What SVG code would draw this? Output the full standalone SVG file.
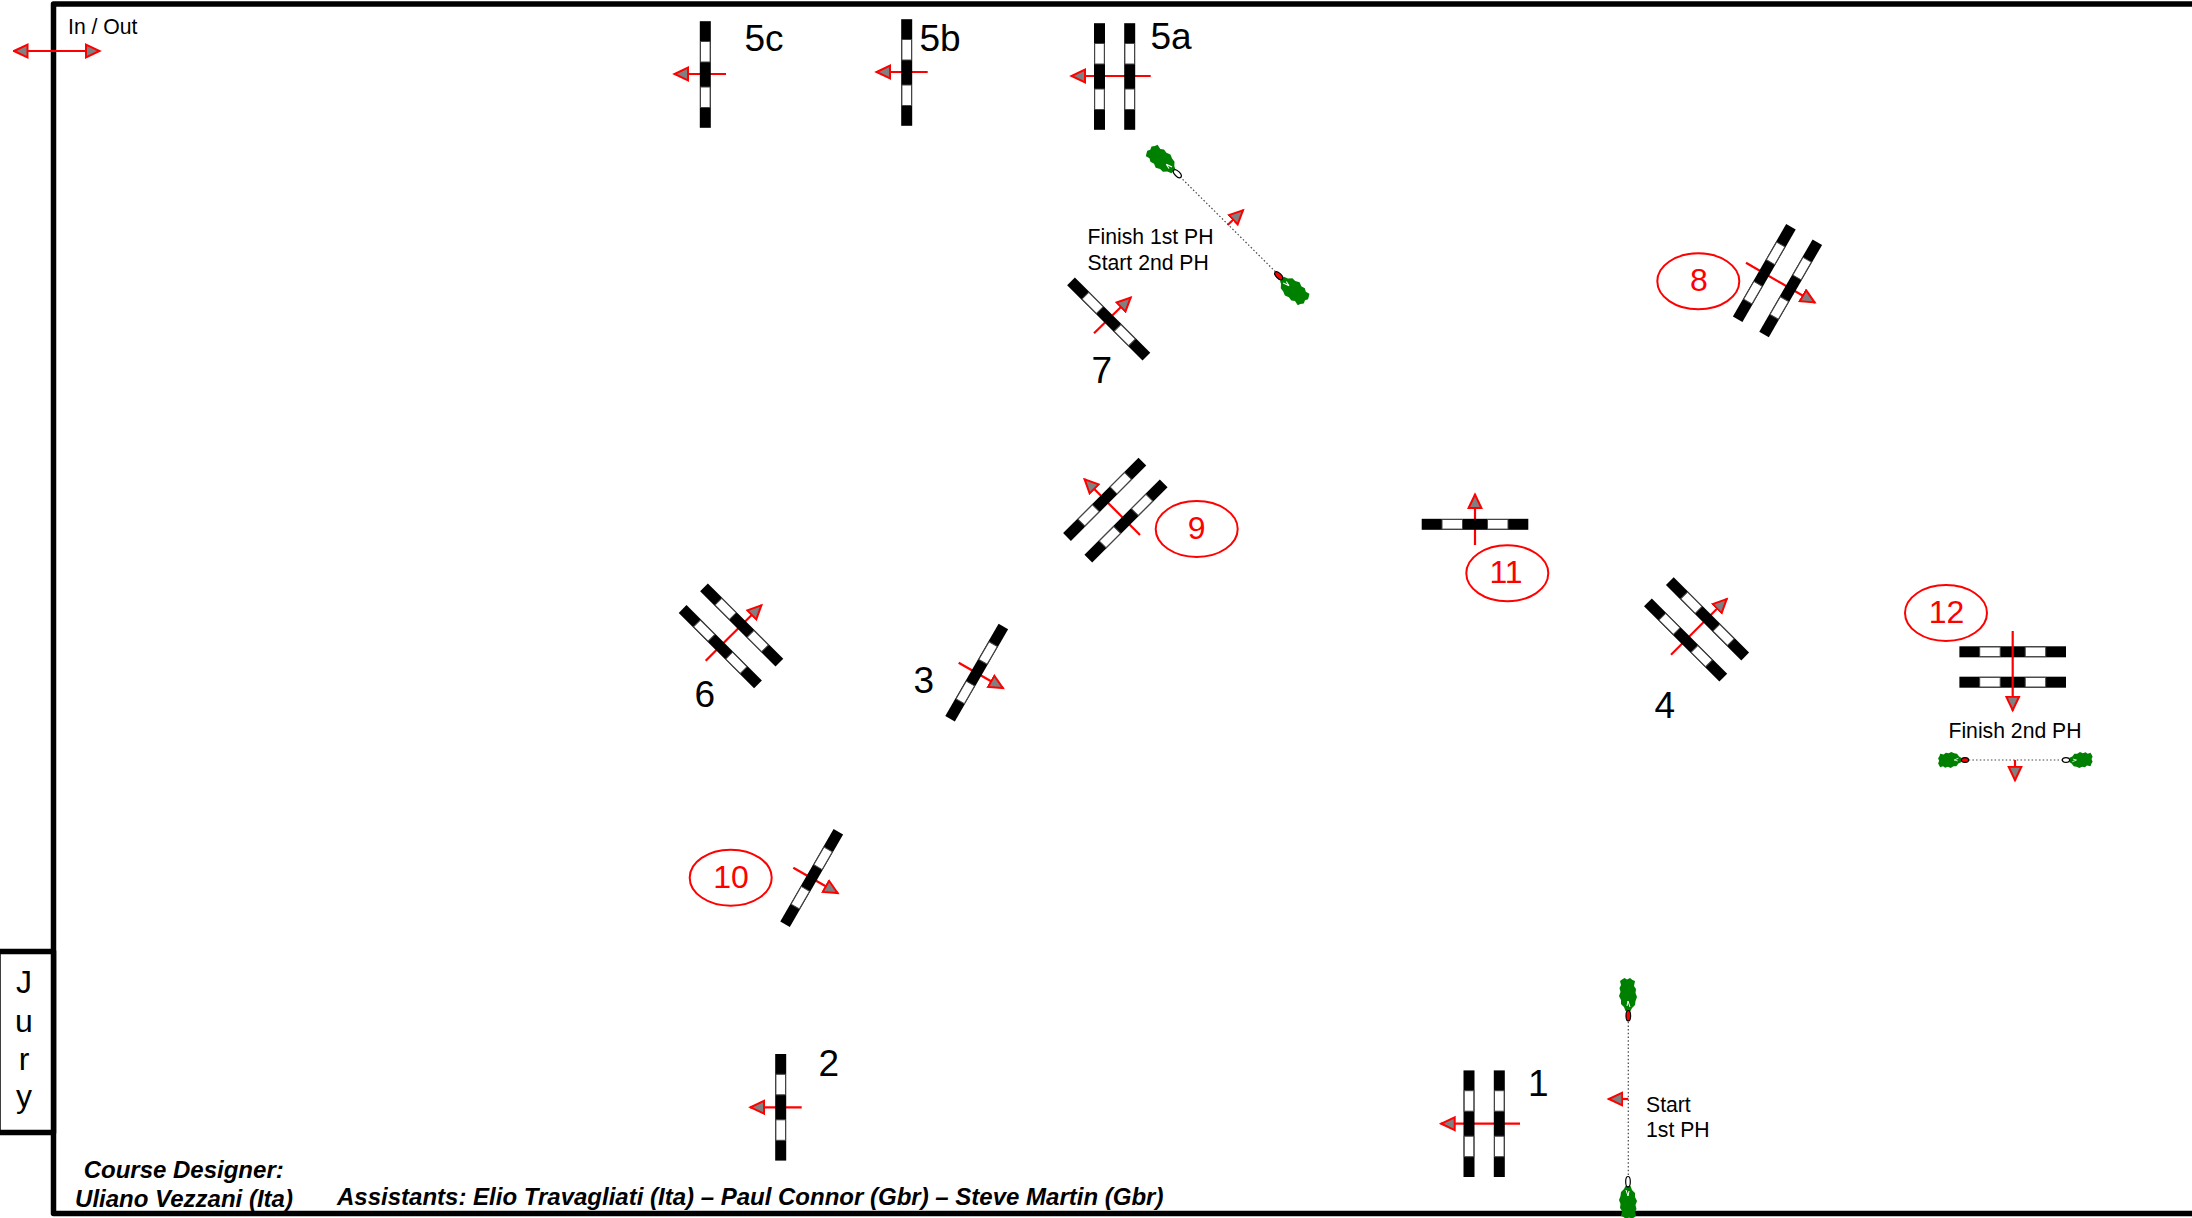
<svg xmlns="http://www.w3.org/2000/svg" xmlns:xlink="http://www.w3.org/1999/xlink" width="2192" height="1218" viewBox="0 0 2192 1218">
<style>
text{font-family:"Liberation Sans",Arial,sans-serif;fill:#000}
.frame{fill:#fff;stroke:#000;stroke-width:5.5;stroke-linejoin:round}
.arw{fill:none;stroke:#f00;stroke-width:2.2}
.a1{marker-end:url(#tip)}
.a2{marker-start:url(#tipS);marker-end:url(#tip)}
.dot{fill:none;stroke:#444;stroke-width:1.2;stroke-dasharray:1.5 2.2}
.num{font-size:37px}
.lbl{font-size:21.2px}
.red{fill:#f00;font-size:32px;text-anchor:middle}
.ring{fill:#fff;stroke:#f00;stroke-width:2}
.cred{font-size:24px;font-weight:bold;font-style:italic}
.ovR{fill:#f00;stroke:#000;stroke-width:1.2}
.ovW{fill:#fff;stroke:#000;stroke-width:1.2}
</style>
<defs>
<marker id="tip" markerUnits="userSpaceOnUse" markerWidth="20" markerHeight="20" refX="15" refY="8" orient="auto"><path d="M1,1.6 L14.5,8 L1,14.4Z" fill="#808080" stroke="#f00" stroke-width="2"/></marker>
<marker id="tipS" markerUnits="userSpaceOnUse" markerWidth="20" markerHeight="20" refX="1" refY="8" orient="auto"><path d="M15,1.6 L1.5,8 L15,14.4Z" fill="#808080" stroke="#f00" stroke-width="2"/></marker>
<g id="bar"><rect x="-5.5" y="-53.3" width="11" height="106.6" fill="#000"/><rect x="-4.8" y="-33" width="9.6" height="20.5" fill="#fff" stroke="#444" stroke-width="1"/><rect x="-4.8" y="12.5" width="9.6" height="20.5" fill="#fff" stroke="#444" stroke-width="1"/></g>
<g id="horse"><path d="M-3.5,-17 L-1,-15.5 L2,-17 L4.5,-15 L7,-14 L6,-9 L8,-6 L7.5,-2 L9,2 L7.5,6 L7,10 L4,13 L2.5,16 L-2.5,16 L-4,12 L-7,9 L-7,5 L-9,1 L-7.5,-3 L-8.5,-7 L-7,-10 L-8,-14 L-6,-15.5Z" fill="#008000"/><path d="M0,6 L-1,11 M0,6 L2,12" stroke="#fff" stroke-width="1" fill="none"/></g>
</defs>

<g id="arena"><rect class="frame" x="53.5" y="4" width="2160" height="1209.5"/></g>
<g id="jump-12" transform="translate(2012.7,667)"><use href="#bar" transform="translate(0,-15.2) rotate(90)"/><use href="#bar" transform="translate(0,15.2) rotate(90)"/></g>

<g id="connectors">
<path class="arw a2" d="M13.5,51 H100"/>
<path class="arw a1" d="M726,74 H674"/>
<path class="arw a1" d="M927.7,72 H876"/>
<path class="arw a1" d="M1150.7,76 H1071"/>
<path class="arw a1" d="M801.7,1107.3 H750"/>
<path class="arw a1" d="M1520,1123.7 H1440.7"/>
<path class="arw a1" d="M1475,545 V494"/>
<path class="arw a1" d="M1671,654.7 L1727,598.7"/>
<path class="arw a1" d="M705.7,660.7 L761.7,605"/>
<path class="arw a1" d="M958.7,662.7 L1003.3,688.3"/>
<path class="arw a1" d="M793.3,867.7 L838,893.3"/>
<path class="arw a1" d="M1746,262.7 L1815,302.7"/>
<path class="arw a1" d="M1140,535 L1084.3,479"/>
<path class="arw a1" d="M1094,333.3 L1131,297.3"/>
<path class="arw a1" d="M2012.7,631 V710.7"/>
<path class="arw a1" d="M1227.7,225 L1243.3,210"/>
<path class="arw a1" d="M2015,760 V780.7"/>
<path class="arw a1" d="M1628.3,1099 H1608.3"/>
<path class="dot" d="M1180,176.7 L1276.7,273"/>
<path class="dot" d="M1965,760 H2065.7"/>
<path class="dot" d="M1628.3,1021.7 V1176.7"/>
</g>

<g id="in-out"><text class="lbl" x="68" y="33.8">In / Out</text></g>
<g id="jury"><rect class="frame" x="-2" y="951.5" width="55.5" height="181"/>
<text x="24" y="993" font-size="32" text-anchor="middle">J</text><text x="24" y="1032" font-size="32" text-anchor="middle">u</text><text x="24" y="1070" font-size="32" text-anchor="middle">r</text><text x="24" y="1107" font-size="32" text-anchor="middle">y</text></g>

<g id="jump-5c"><use href="#bar" transform="translate(705.3,74.5)"/><text class="num" x="744.5" y="50.5">5c</text></g>
<g id="jump-5b"><use href="#bar" transform="translate(906.7,72.5)"/><text class="num" x="919.5" y="50.5">5b</text></g>
<g id="jump-5a"><use href="#bar" transform="translate(1099.5,76.5)"/><use href="#bar" transform="translate(1129.7,76.5)"/><text class="num" x="1150.5" y="48.8">5a</text></g>
<g id="jump-7"><use href="#bar" transform="translate(1108.7,319) rotate(-45)"/><text class="num" x="1091.5" y="382.5">7</text></g>
<g id="jump-8"><ellipse class="ring" cx="1698.3" cy="281.3" rx="41" ry="28"/><text class="red" x="1698.8" y="291">8</text><use href="#bar" transform="translate(1764.3,273) rotate(30)"/><use href="#bar" transform="translate(1790.7,288.3) rotate(30)"/></g>
<g id="jump-9"><ellipse class="ring" cx="1196.7" cy="529" rx="41" ry="28"/><text class="red" x="1196.7" y="539">9</text><use href="#bar" transform="translate(1104.7,499.3) rotate(45)"/><use href="#bar" transform="translate(1126,521) rotate(45)"/></g>
<g id="jump-11"><use href="#bar" transform="translate(1475,524.3) rotate(90)"/><ellipse class="ring" cx="1507.3" cy="573.3" rx="41" ry="28"/><text class="red" x="1506" y="583.3">11</text></g>
<g id="jump-4"><use href="#bar" transform="translate(1707.5,618.8) rotate(-45)"/><use href="#bar" transform="translate(1685.6,640) rotate(-45)"/><text class="num" x="1654.5" y="718">4</text></g>
<g id="jump-6"><use href="#bar" transform="translate(741.7,625) rotate(-45)"/><use href="#bar" transform="translate(720.3,646.7) rotate(-45)"/><text class="num" x="694.5" y="707">6</text></g>
<g id="jump-3"><use href="#bar" transform="translate(976.7,672.7) rotate(30)"/><text class="num" x="913.5" y="692.5">3</text></g>
<g id="jump-10"><ellipse class="ring" cx="730.7" cy="877.7" rx="41" ry="28"/><text class="red" x="731" y="888.3">10</text><use href="#bar" transform="translate(811.7,878) rotate(30)"/></g>
<g id="jump-2"><use href="#bar" transform="translate(780.7,1107.3)"/><text class="num" x="818.5" y="1075.5">2</text></g>
<g id="jump-1"><use href="#bar" transform="translate(1469,1123.7)"/><use href="#bar" transform="translate(1499.3,1123.7)"/><text class="num" x="1528" y="1095.5">1</text></g>
<g id="label-12"><ellipse class="ring" cx="1946" cy="613" rx="41" ry="28"/><text class="red" x="1946.5" y="622.7">12</text></g>

<g id="start-1st-ph"><use href="#horse" transform="translate(1628,995)"/><use href="#horse" transform="translate(1628,1202) rotate(180)"/><ellipse class="ovR" cx="1628.3" cy="1015.7" rx="2.3" ry="5.2"/><ellipse class="ovW" cx="1628" cy="1181.7" rx="2.3" ry="5.2"/><text class="lbl" x="1646" y="1111.7">Start</text><text class="lbl" x="1646" y="1136.7">1st PH</text></g>
<g id="finish-1st-ph"><use href="#horse" transform="translate(1162,160) rotate(-45) scale(1.1,1)"/><use href="#horse" transform="translate(1293.3,290) rotate(135) scale(1.1,1)"/><ellipse class="ovW" cx="1177.3" cy="173.7" rx="2.5" ry="5" transform="rotate(-45 1177.3 173.7)"/><ellipse class="ovR" cx="1278.7" cy="275.7" rx="2.5" ry="5" transform="rotate(-45 1278.7 275.7)"/><text class="lbl" x="1087.5" y="244.3">Finish 1st PH</text><text class="lbl" x="1087.5" y="270">Start 2nd PH</text></g>
<g id="finish-2nd-ph"><use href="#horse" transform="translate(1950,760) rotate(-90) scale(.9,.7)"/><use href="#horse" transform="translate(2080.7,760) rotate(90) scale(.9,.7)"/><ellipse class="ovR" cx="1965" cy="760" rx="3.6" ry="2.4"/><ellipse class="ovW" cx="2066" cy="760" rx="3.6" ry="2.4"/><text class="lbl" x="2015" y="737.5" text-anchor="middle">Finish 2nd PH</text></g>
<g id="credits"><text class="cred" x="183.7" y="1178" text-anchor="middle">Course Designer:</text><text class="cred" x="184" y="1206.5" text-anchor="middle">Uliano Vezzani (Ita)</text><text class="cred" x="337" y="1205">Assistants: Elio Travagliati (Ita) – Paul Connor (Gbr) – Steve Martin (Gbr)</text></g>
</svg>
